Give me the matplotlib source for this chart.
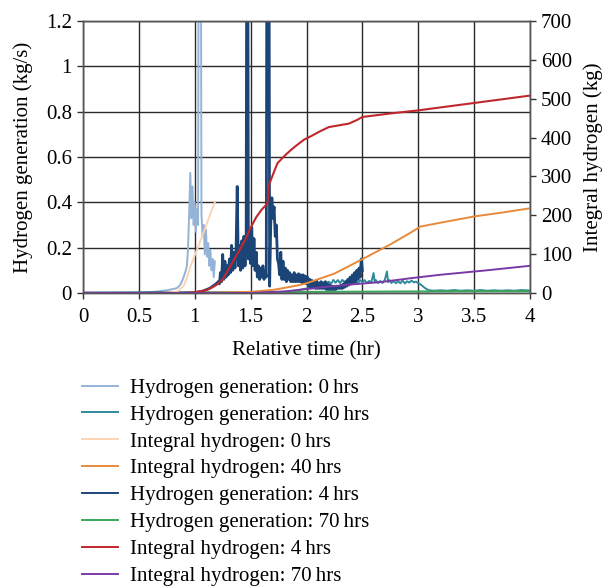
import matplotlib
matplotlib.use("Agg")
import matplotlib.pyplot as plt
from matplotlib.ticker import FuncFormatter

plt.rcParams['font.family'] = ['Liberation Serif', 'DejaVu Serif']
FS = 15

# ---------------- data ----------------
# Hydrogen generation, 0 hrs (kg/s)
h0_t = [0.00, 0.50, 0.55, 0.60, 0.65, 0.70, 0.75, 0.78, 0.80, 0.82, 0.84, 0.86, 0.88,
        0.90, 0.92, 0.93, 0.94, 0.95, 0.96, 0.97, 0.98, 0.99, 1.00, 1.01, 1.02, 1.03,
        1.04, 1.05, 1.06, 1.07, 1.08, 1.09, 1.10, 1.11, 1.12, 1.13, 1.14, 1.15, 1.16,
        1.17, 1.18]
h0_v = [0.000, 0.000, 0.002, 0.004, 0.006, 0.009, 0.012, 0.015, 0.017, 0.019, 0.022, 0.030, 0.045,
        0.070, 0.100, 0.120, 0.200, 0.350, 0.530, 0.330, 0.470, 0.300, 0.400, 0.270, 0.370, 0.300,
        3.000, 3.000, 0.350, 0.250, 0.300, 0.170, 0.280, 0.160, 0.220, 0.120, 0.190, 0.100, 0.150,
        0.070, 0.140]

# Hydrogen generation, 40 hrs (kg/s)
h40_t = [0.00, 1.80, 1.90, 2.00, 2.05, 2.10, 2.15, 2.20, 2.22, 2.24, 2.26, 2.28, 2.30, 2.32,
         2.34, 2.36, 2.38, 2.40, 2.42, 2.44, 2.46, 2.48, 2.50, 2.52, 2.54, 2.56, 2.58, 2.60,
         2.61, 2.62, 2.64, 2.66, 2.68, 2.70, 2.72, 2.73, 2.74, 2.76, 2.78, 2.80, 2.82, 2.84,
         2.86, 2.88, 2.90, 2.92, 2.94, 2.96, 2.98, 3.00, 3.02, 3.04, 3.06, 3.08, 3.10, 3.14,
         3.20, 3.26, 3.32, 3.38, 3.44, 3.50, 3.56, 3.62, 3.68, 3.74, 3.80, 3.86, 3.92, 4.00]
h40_v = [0.000, 0.005, 0.010, 0.020, 0.025, 0.030, 0.035, 0.050, 0.040, 0.058, 0.045, 0.057, 0.044, 0.058,
         0.048, 0.054, 0.044, 0.057, 0.044, 0.053, 0.044, 0.057, 0.048, 0.057, 0.044, 0.053, 0.048, 0.088,
         0.048, 0.057, 0.044, 0.053, 0.044, 0.057, 0.095, 0.048, 0.057, 0.044, 0.053, 0.043, 0.052, 0.043,
         0.055, 0.042, 0.052, 0.046, 0.055, 0.047, 0.050, 0.043, 0.038, 0.030, 0.022, 0.016, 0.012, 0.010,
         0.012, 0.010, 0.013, 0.010, 0.012, 0.010, 0.013, 0.010, 0.012, 0.010, 0.012, 0.010, 0.013, 0.011]

# Hydrogen generation, 4 hrs (kg/s), sampled every 0.01 hr from 1.00 to 2.50
h4_t = [0.00] + [round(1.00 + 0.01 * i, 2) for i in range(151)]
h4_v = [0.000,
        0.000, 0.002, 0.003, 0.004, 0.005, 0.006, 0.007, 0.008, 0.010, 0.012,
        0.014, 0.016, 0.018, 0.020, 0.023, 0.026, 0.030, 0.033, 0.037, 0.040,
        0.045, 0.050, 0.040, 0.090, 0.050, 0.170, 0.060, 0.140, 0.070, 0.120,
        0.080, 0.150, 0.090, 0.210, 0.100, 0.180, 0.110, 0.200, 0.470, 0.120,
        0.210, 0.100, 0.230, 0.110, 0.250, 0.120, 0.220, 3.000, 0.150, 0.270,
        0.130, 0.290, 0.120, 0.240, 0.100, 0.180, 0.070, 0.120, 0.060, 0.110,
        0.070, 0.120, 0.060, 0.100, 0.070, 3.000, 3.000, 0.030, 0.300, 0.420,
        0.330, 0.380, 0.250, 0.300, 0.150, 0.130, 0.080, 0.180, 0.060, 0.140,
        0.060, 0.110, 0.050, 0.100, 0.060, 0.090, 0.050, 0.080, 0.050, 0.090,
        0.050, 0.080, 0.050, 0.085, 0.050, 0.080, 0.045, 0.080, 0.050, 0.075,
        0.040, 0.070, 0.030, 0.060, 0.025, 0.055, 0.025, 0.050, 0.020, 0.055,
        0.020, 0.045, 0.020, 0.050, 0.020, 0.045, 0.020, 0.050, 0.015, 0.040,
        0.015, 0.035, 0.015, 0.030, 0.015, 0.030, 0.015, 0.030, 0.020, 0.030,
        0.020, 0.035, 0.020, 0.040, 0.025, 0.050, 0.030, 0.060, 0.035, 0.070,
        0.040, 0.080, 0.045, 0.090, 0.050, 0.100, 0.060, 0.110, 0.070, 0.150,
        0.100]

# Hydrogen generation, 70 hrs (kg/s)
h70_t = [0.00, 1.50, 2.00, 2.50, 3.00, 3.50, 4.00]
h70_v = [0.000, 0.002, 0.005, 0.006, 0.007, 0.008, 0.008]

# Integral hydrogen (kg)
i0_t = [0.00, 0.70, 0.75, 0.80, 0.85, 0.90, 0.93, 0.96, 1.00, 1.05, 1.10, 1.15, 1.18]
i0_v = [0, 0, 1, 2, 5, 18, 40, 67, 97, 134, 172, 212, 234]

i40_t = [0.00, 1.00, 1.50, 1.70, 1.80, 1.93, 2.00, 2.25, 2.50, 2.75, 2.93, 3.02, 3.20, 3.50, 3.75, 4.00]
i40_v = [0, 0, 3, 8, 13, 20, 25, 50, 87, 125, 155, 171, 181, 197, 207, 218]

i4_t = [0.00, 0.90, 1.00, 1.10, 1.16, 1.20, 1.25, 1.30, 1.35, 1.40, 1.45, 1.50, 1.55, 1.60,
        1.65, 1.66, 1.68, 1.70, 1.74, 1.80, 1.86, 1.92, 1.98, 2.05, 2.12, 2.20, 2.30, 2.38,
        2.45, 2.50, 2.75, 3.00, 3.50, 4.00]
i4_v = [0, 0, 2, 7, 15, 22, 35, 60, 85, 110, 136, 168, 195, 215,
        230, 275, 290, 305, 334, 352, 368, 382, 395, 405, 416, 427, 432, 436,
        445, 453, 462, 470, 489, 508]

i70_t = [0.00, 1.50, 1.80, 2.00, 2.15, 2.40, 2.66, 2.93, 3.20, 3.60, 4.00]
i70_v = [0, 0, 4, 10, 15, 22, 28, 38, 47, 58, 70]

x_ticks = [0, 0.5, 1, 1.5, 2, 2.5, 3, 3.5, 4]
left_ticks = [0, 0.2, 0.4, 0.6, 0.8, 1.0, 1.2]
right_ticks = [0, 100, 200, 300, 400, 500, 600, 700]

# ---------------- figure ----------------
fig = plt.figure(figsize=(6.03, 5.88), dpi=100)
ax = fig.add_axes([83 / 603, 1 - 293 / 588, 447 / 603, 272 / 588])
ax2 = ax.twinx()

c_h0 = '#95b3d7'
c_h40 = '#2f8a9c'
c_i0 = '#fbd4b4'
c_i40 = '#e88a3c'
c_h4 = '#1c4577'
c_h70 = '#3aa65a'
c_i4 = '#c0282d'
c_i70 = '#7a3aa6'

l_h0, = ax.plot(h0_t, h0_v, color=c_h0, lw=1.4)
l_h40, = ax.plot(h40_t, h40_v, color=c_h40, lw=1.4)
l_h4, = ax.plot(h4_t, h4_v, color=c_h4, lw=2.0)
l_h70, = ax.plot(h70_t, h70_v, color=c_h70, lw=1.4)

l_i0, = ax2.plot(i0_t, i0_v, color=c_i0, lw=1.4)
l_i40, = ax2.plot(i40_t, i40_v, color=c_i40, lw=1.4)
l_i4, = ax2.plot(i4_t, i4_v, color=c_i4, lw=1.5)
l_i70, = ax2.plot(i70_t, i70_v, color=c_i70, lw=1.4)

ax.set_xlim(0, 4)
ax.set_ylim(0, 1.2)
ax2.set_ylim(0, 700)
ax.set_xticks(x_ticks)
ax.set_yticks(left_ticks)
ax2.set_yticks(right_ticks)
fmt = FuncFormatter(lambda v, p: f'{v:g}')
ax.xaxis.set_major_formatter(fmt)
ax.yaxis.set_major_formatter(fmt)

ax.grid(True, color='#2a2a2a', lw=1.0)
ax.set_axisbelow(True)
for a in (ax, ax2):
    for s in a.spines.values():
        s.set_color('#555555')
        s.set_linewidth(1.0)
ax.tick_params(axis='x', direction='out', length=4, width=1, colors='#333333', labelcolor='black',
               labelsize=FS, pad=7)
ax.tick_params(axis='y', direction='out', length=4, width=1, colors='#333333', labelcolor='black',
               labelsize=FS, pad=4)
ax2.tick_params(direction='out', length=4, width=1, colors='#333333', labelcolor='black',
                labelsize=FS, pad=4)

ax.set_xlabel('Relative time (hr)', fontsize=FS, labelpad=10)
ax.set_ylabel('Hydrogen generation (kg/s)', fontsize=FS, labelpad=9)
ax2.set_ylabel('Integral hydrogen (kg)', fontsize=FS, rotation=90, labelpad=8)

handles = [l_h0, l_h40, l_i0, l_i40, l_h4, l_h70, l_i4, l_i70]
labels = ['Hydrogen generation: 0\u2009hrs', 'Hydrogen generation: 40\u2009hrs',
          'Integral hydrogen: 0\u2009hrs', 'Integral hydrogen: 40\u2009hrs',
          'Hydrogen generation: 4\u2009hrs', 'Hydrogen generation: 70\u2009hrs',
          'Integral hydrogen: 4\u2009hrs', 'Integral hydrogen: 70\u2009hrs']
leg = fig.legend(handles, labels, loc='upper left', bbox_to_anchor=(76 / 603, 1 - 372 / 588),
                 frameon=False, fontsize=FS, handlelength=1.7, handletextpad=0.6,
                 labelspacing=0.35, borderaxespad=0, borderpad=0.3)
for line in leg.get_lines():
    line.set_linewidth(1.4)

fig.savefig('out.png', dpi=100)
